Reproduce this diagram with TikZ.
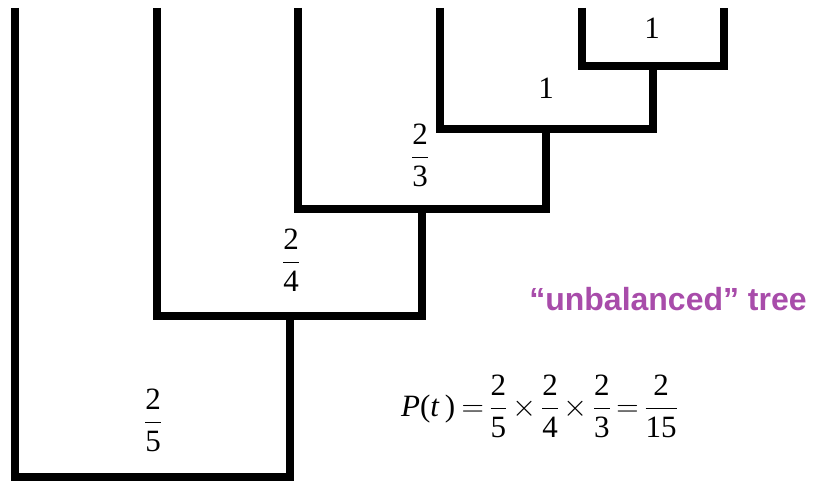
\RequirePackage{fix-cm}
\documentclass[tikz,border=0pt]{standalone}
\usepackage{amsmath}
\usepackage{fontspec}
\setmainfont{Liberation Serif}
\newfontfamily\labelsans{Liberation Sans}
\definecolor{treepurple}{RGB}{168,76,170}
\newcommand{\tfr}[2]{\dfrac{\mbox{#1}}{\mbox{#2}}}
\tikzset{
  branch/.style={line width=8.8pt, line join=miter, line cap=butt, black},
  lab/.style={inner sep=0pt, anchor=base, font=\fontsize{31}{37}\selectfont},
  title/.style={inner sep=0pt, anchor=base, text=treepurple, font=\fontsize{32}{38}\selectfont\labelsans\bfseries}
}
\begin{document}
\begin{tikzpicture}[x=1pt,y=-1pt]
\useasboundingbox (0,0) rectangle (816,481);
% leaves
\coordinate (l1) at (15,8);
\coordinate (l2) at (157,8);
\coordinate (l3) at (298,8);
\coordinate (l4) at (440,8);
\coordinate (l5) at (582,8);
\coordinate (l6) at (724,8);
% corners
\coordinate (a1) at (582,66);
\coordinate (a2) at (724,66);
\coordinate (am) at (653,66);
\coordinate (b1) at (440,129);
\coordinate (b2) at (653,129);
\coordinate (bm) at (546,129);
\coordinate (c1) at (298,209);
\coordinate (c2) at (546,209);
\coordinate (cm) at (422,209);
\coordinate (d1) at (157,316);
\coordinate (d2) at (422,316);
\coordinate (dm) at (290,316);
\coordinate (e1) at (15,477);
\coordinate (e2) at (290,477);
% branches
\draw[branch] (l5) -- (a1) -- (a2) -- (l6);
\draw[branch] (l4) -- (b1) -- (b2) -- (am);
\draw[branch] (l3) -- (c1) -- (c2) -- (bm);
\draw[branch] (l2) -- (d1) -- (d2) -- (cm);
\draw[branch] (l1) -- (e1) -- (e2) -- (dm);
% labels
\node[lab] (p1) at (652,39) {1};
\node[lab] (p2) at (546,99) {1};
\node[lab] (p3) at (420,165) {$\tfr{2}{3}$};
\node[lab] (p4) at (291,270) {$\tfr{2}{4}$};
\node[lab] (p5) at (153,430) {$\tfr{2}{5}$};
\node[title] (ttl) at (668,310) {“unbalanced” tree};
\node[lab, anchor=base west] (eq) at (401,416)
  {\thickmuskip=3.7mu\medmuskip=3.2mu\nulldelimiterspace=0.5pt%
   $\mbox{\textit{P}(\textit{t}\,)}=\tfr{2}{5}\times\tfr{2}{4}\times\tfr{2}{3}=\tfr{2}{15}$};
\end{tikzpicture}
\end{document}
